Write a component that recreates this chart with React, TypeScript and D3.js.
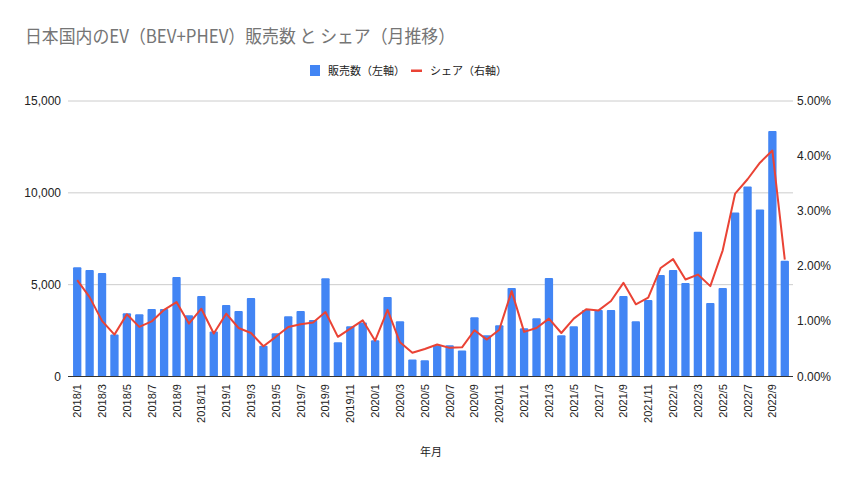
import { useMemo } from 'react';
import * as d3 from 'd3';

const months: string[] = [];
for (let y = 2018; y <= 2022; y++) {
  for (let m = 1; m <= 12; m++) {
    if (y === 2022 && m > 10) break;
    months.push(`${y}/${m}`);
  }
}

const salesCounts = [
  5950, 5800, 5640, 2280, 3450, 3395, 3670, 3670, 5420, 3340, 4380, 2445,
  3890, 3560, 4270, 1680, 2350, 3285, 3560, 3070, 5350, 1860, 2740, 2940,
  1970, 4330, 3010, 930, 880, 1700, 1700, 1420, 3230, 2245, 2790, 4820,
  2630, 3175, 5365, 2245, 2740, 3615, 3615, 3615, 4380, 3010, 4160, 5530,
  5800, 5090, 7880, 4000, 4820, 8925, 10350, 9090, 13360, 6300,
];

const sharePct = [
  1.75, 1.44, 1.01, 0.76, 1.13, 0.9, 1.0, 1.21, 1.35, 0.96, 1.23, 0.78,
  1.14, 0.88, 0.79, 0.55, 0.72, 0.9, 0.95, 0.98, 1.17, 0.72, 0.87, 1.02,
  0.65, 1.21, 0.62, 0.43, 0.5, 0.58, 0.52, 0.53, 0.84, 0.67, 0.85, 1.55,
  0.81, 0.88, 1.05, 0.79, 1.05, 1.22, 1.2, 1.37, 1.7, 1.31, 1.43, 1.97,
  2.13, 1.76, 1.85, 1.64, 2.29, 3.32, 3.58, 3.88, 4.1, 2.12,
];

const leftTicks = [0, 5000, 10000, 15000];
const rightTicks = [0, 1, 2, 3, 4, 5];

const W = 859;
const H = 484;
const plot = { left: 68, right: 793, top: 101, bottom: 376.5 };
const latin = '"Liberation Sans", Arial, "Noto Sans CJK JP", sans-serif';
const cjk = '"Noto Sans CJK JP", "Liberation Sans", sans-serif';

export default function App() {
  const x = useMemo(
    () => d3.scaleBand<string>().domain(months).range([71, 791]).paddingInner(0.33).paddingOuter(0.165),
    [],
  );
  const yL = d3.scaleLinear().domain([0, 15000]).range([plot.bottom, plot.top]);
  const yR = d3.scaleLinear().domain([0, 5]).range([plot.bottom, plot.top]);
  const fmtL = d3.format(',');

  const line = d3
    .line<number>()
    .x((_, i) => (x(months[i]) ?? 0) + x.bandwidth() / 2)
    .y((d) => yR(d));

  return (
    <svg width={W} height={H} style={{ position: 'absolute', left: 0, top: 0, background: '#fff' }}>
      <text x={25} y={43} fontSize={18} fill="#757575" fontFamily={cjk} textLength={430} lengthAdjust="spacingAndGlyphs">
        日本国内のEV（BEV+PHEV）販売数 と シェア（月推移）
      </text>

      {/* legend */}
      <rect x={310} y={65} width={10} height={11} fill="#4285f4" />
      <text x={328} y={75} fontSize={11} fill="#222" fontFamily={cjk}>販売数（左軸）</text>
      <rect x={411} y={69.5} width={11} height={2.5} fill="#ea4335" />
      <text x={430} y={75} fontSize={11} fill="#222" fontFamily={cjk}>シェア（右軸）</text>

      {/* grid + left axis */}
      {leftTicks.map((t) => (
        <g key={t}>
          {t > 0 && (
            <line x1={plot.left} x2={plot.right} y1={yL(t)} y2={yL(t)} stroke="#cccccc" strokeWidth={1} />
          )}
          <text x={61} y={yL(t) + 4} textAnchor="end" fontSize={12} fill="#222" fontFamily={latin}>
            {fmtL(t)}
          </text>
        </g>
      ))}

      {/* right axis */}
      {rightTicks.map((t) => (
        <text key={t} x={797} y={yR(t) + 4} fontSize={12} fill="#222" fontFamily={latin}>
          {t.toFixed(2)}%
        </text>
      ))}

      {/* bars */}
      {salesCounts.map((v, i) => (
        <rect
          key={months[i]}
          x={x(months[i])}
          y={yL(v)}
          width={x.bandwidth()}
          height={yL(0) - yL(v)}
          rx={1}
          fill="#4285f4"
        />
      ))}

      <line x1={plot.left} x2={plot.right} y1={yL(0)} y2={yL(0)} stroke="#333" strokeWidth={1} />

      {/* share line */}
      <path d={line(sharePct) ?? ''} fill="none" stroke="#ea4335" strokeWidth={2} strokeLinejoin="round" />

      {/* x tick labels */}
      {months.map((m, i) =>
        i % 2 === 0 ? (
          <text
            key={m}
            transform={`translate(${(x(m) ?? 0) + x.bandwidth() / 2 + 4},384) rotate(-90)`}
            textAnchor="end"
            fontSize={11}
            fill="#222"
            fontFamily={latin}
          >
            {m}
          </text>
        ) : null,
      )}

      <text x={431} y={456} textAnchor="middle" fontSize={11} fill="#222" fontFamily={cjk}>
        年月
      </text>
    </svg>
  );
}
